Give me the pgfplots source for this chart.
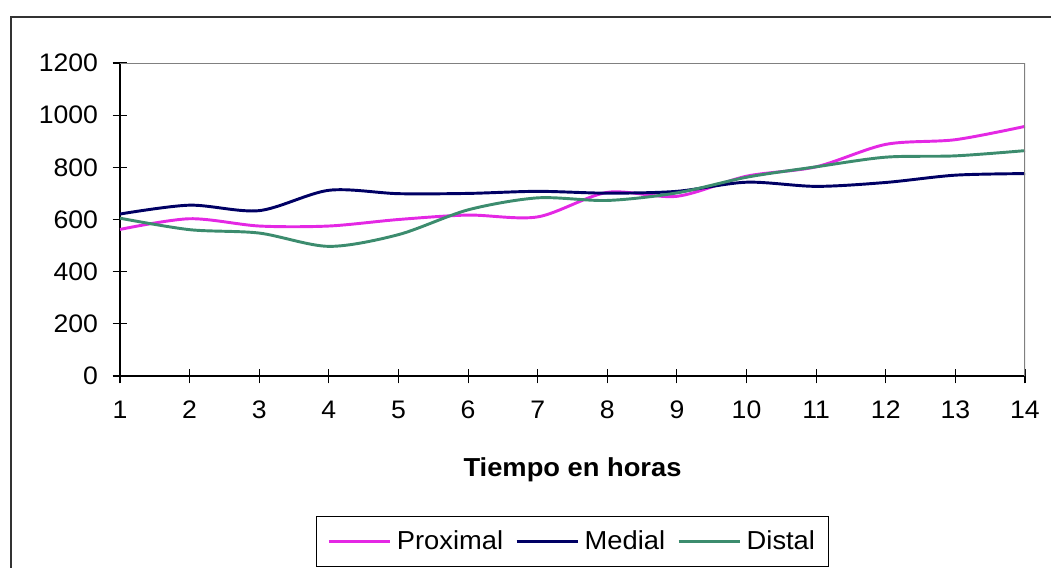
\documentclass[border=0pt]{standalone}
\usepackage{pgfplots}
\pgfplotsset{compat=1.18}
\usepackage{fontspec}
\setmainfont{Liberation Sans}[FakeStretch=1.05]

\definecolor{proximal}{RGB}{228,40,228}
\definecolor{medial}{RGB}{0,0,100}
\definecolor{distal}{RGB}{60,140,110}

\begin{document}
\begin{tikzpicture}
\useasboundingbox (-90pt,-144pt) rectangle (698.25pt,282pt);
\begin{axis}[
    at={(0,0)}, anchor=south west,
    scale only axis,
    width=678.75pt, height=234.75pt,
    xmin=1, xmax=14, ymin=0, ymax=1200,
    xtick={1,...,14},
    ytick={0,200,...,1200},
    axis x line*=bottom, axis y line*=left,
    axis line style={black, line width=0.8pt, -},
    tick align=center,
    major tick length=11pt,
    tick style={black, line width=0.8pt},
    /pgf/number format/assume math mode=true,
    /pgf/number format/1000 sep={},
    tick label style={font=\fontsize{19}{22}\selectfont},
    xticklabel style={yshift=-9.5pt},
    yticklabel style={xshift=-7.5pt},
    xlabel={Tiempo en horas},
    xlabel style={at={(axis description cs:0.5,0)}, anchor=center,
        yshift=-70pt, font=\fontsize{19.5}{22}\selectfont\bfseries},
    legend columns=-1,
    legend style={at={(axis description cs:0.5,0)}, anchor=center,
        yshift=-124pt, draw=black, line width=0.8pt,
        font=\fontsize{19.5}{22}\selectfont,
        inner xsep=8pt, inner ysep=9pt,
        /tikz/column sep=2pt,
        /tikz/every even column/.append style={column sep=7pt}},
    legend image code/.code={\draw[#1] (0pt,0pt) -- (46pt,0pt);},
    every axis plot/.append style={line width=2.2pt, smooth, no markers},
]
\addplot [color=proximal] coordinates {
    (1,562) (2,603) (3,575) (4,575) (5,600) (6,617) (7,610)
    (8,704) (9,689) (10,766) (11,802) (12,888) (13,906) (14,957) };
\addplot [color=medial] coordinates {
    (1,621) (2,655) (3,634) (4,712) (5,699) (6,700) (7,708)
    (8,701) (9,708) (10,743) (11,727) (12,742) (13,770) (14,776) };
\addplot [color=distal] coordinates {
    (1,605) (2,561) (3,548) (4,497) (5,542) (6,637) (7,683)
    (8,673) (9,702) (10,762) (11,802) (12,839) (13,844) (14,864) };
\legend{Proximal, Medial, Distal}
\draw[gray, line width=0.8pt] (rel axis cs:0,1) -- (rel axis cs:1,1) -- (rel axis cs:1,0);
\end{axis}
\begin{scope}
\clip (-90pt,-144pt) rectangle (698.25pt,282pt);
\draw[black!80, line width=1.6pt] (-81.75pt,-160pt) -- (-81.75pt,269.25pt) -- (720pt,269.25pt);
\end{scope}
\end{tikzpicture}
\end{document}
